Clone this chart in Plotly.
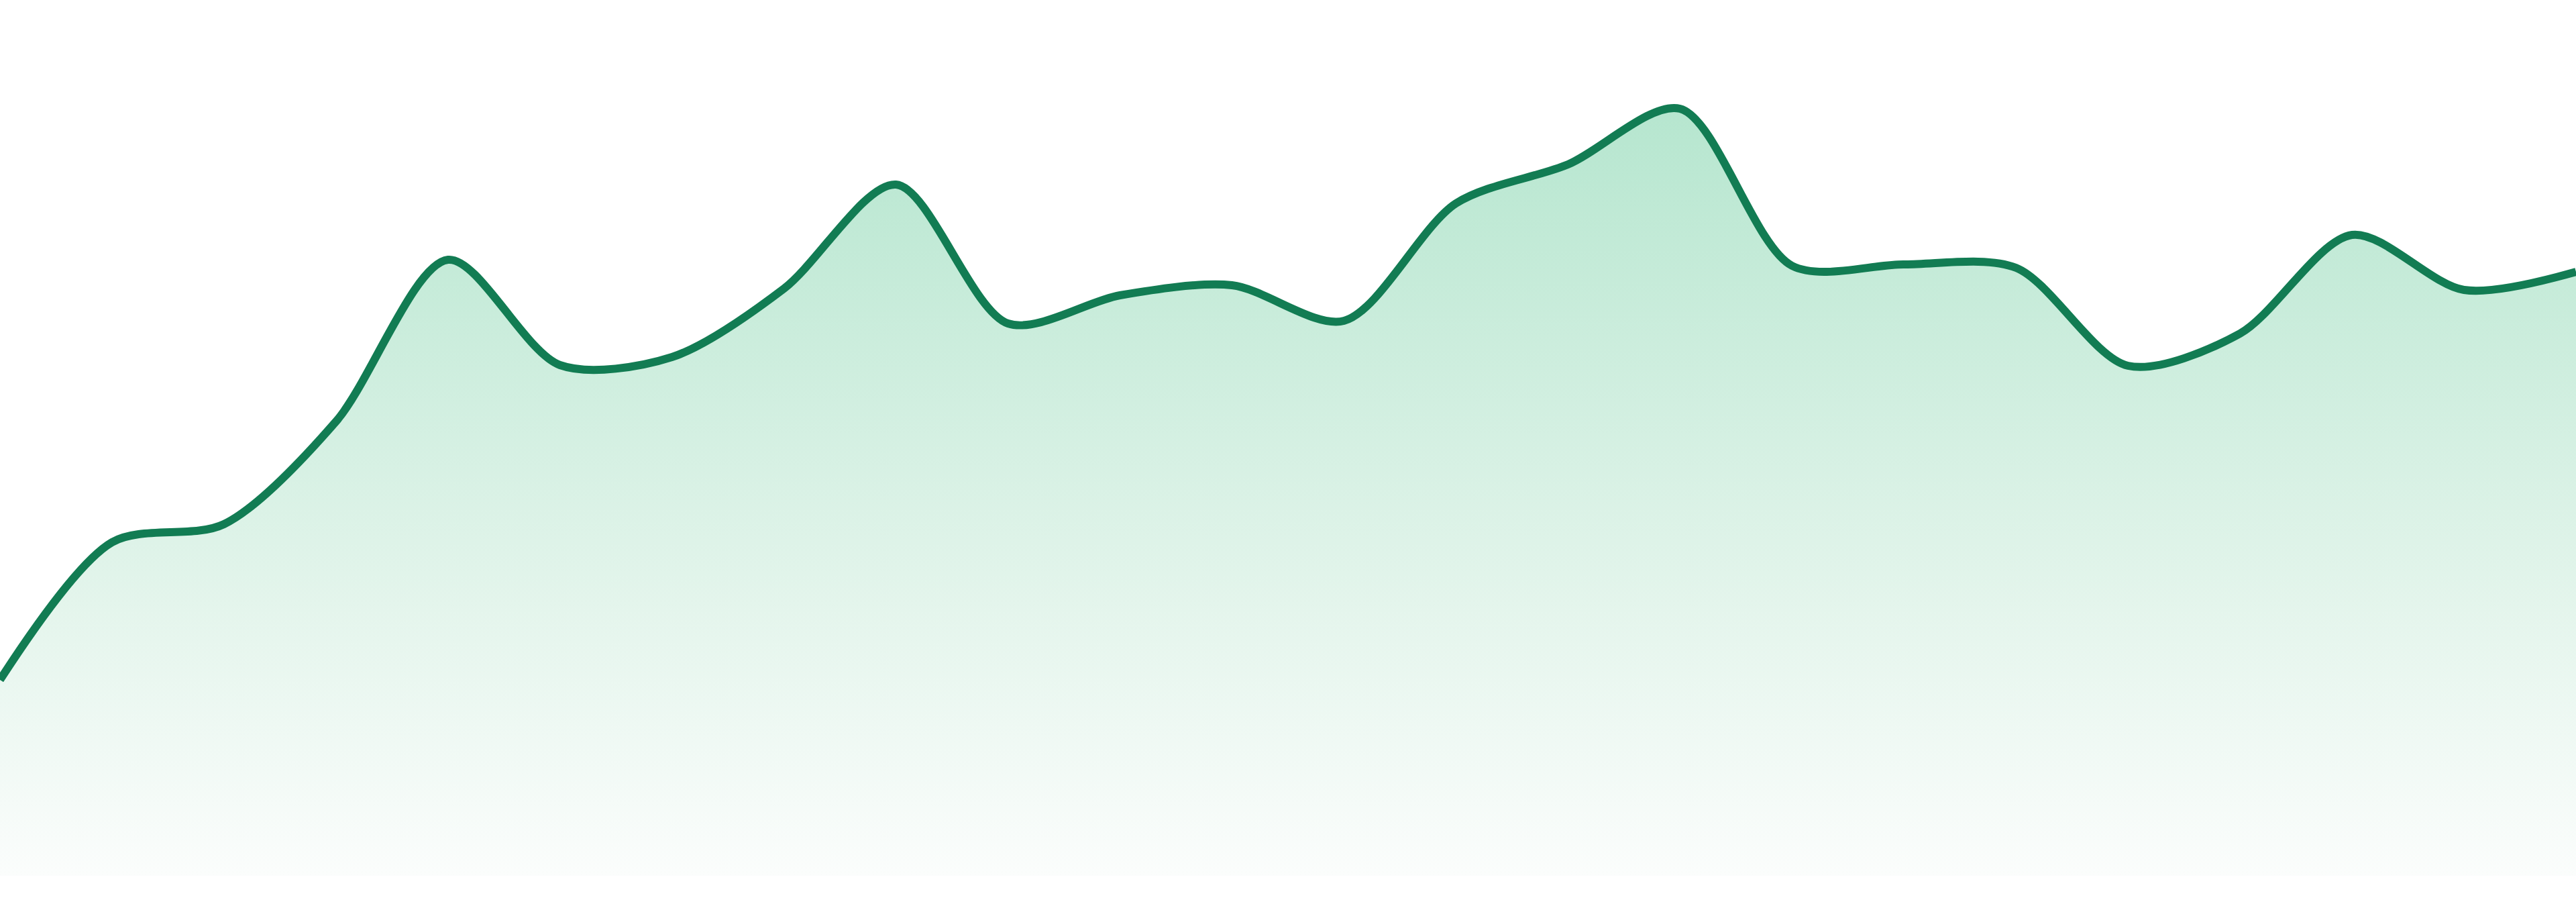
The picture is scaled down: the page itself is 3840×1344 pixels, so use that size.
import plotly.graph_objects as go

# 24 evenly spaced samples
labels = [f"P{i + 1}" for i in range(24)]
values = [29.2, 49.7, 52.4, 67.7, 91.8, 76.1, 77.3, 87.5, 103.0, 82.3, 86.5, 88.0,
          82.7, 100.2, 106.0, 114.3, 90.9, 91.1, 90.6, 76.0, 80.8, 95.5, 87.3, 90.0]

LINE = "#127c53"

fig = go.Figure()
fig.add_trace(go.Scatter(
    x=labels, y=values,
    mode="lines",
    line=dict(color=LINE, width=12, shape="spline", smoothing=0.85),
    fill="tozeroy",
    fillgradient=dict(
        type="vertical",
        start=0, stop=max(values),
        colorscale=[[0, "#fbfdfc"], [0.35, "#e4f5ec"], [1, "#b6e6cf"]],
    ),
    hoverinfo="skip",
))

fig.update_layout(
    width=3840, height=1344,
    margin=dict(l=0, r=0, t=0, b=39),
    paper_bgcolor="white", plot_bgcolor="white",
    showlegend=False,
)
fig.update_xaxes(visible=False, range=[0, len(labels) - 1])
fig.update_yaxes(visible=False, range=[0, 130.5])

# page body margin would push the fixed-size chart off the window
fig.write_html(
    "out.html",
    config={"displayModeBar": False},
    post_script="document.body.style.margin='0';document.body.style.overflow='hidden';",
)
